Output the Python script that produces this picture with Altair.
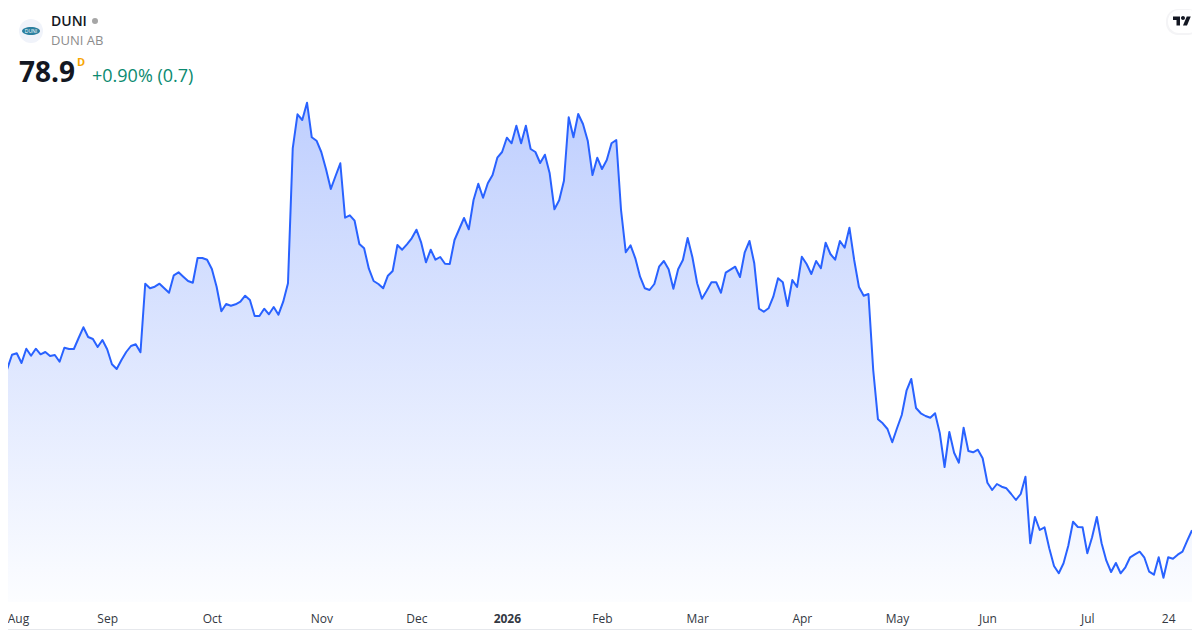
import altair as alt
import pandas as pd

close = [
91.47,90.19,91.19,91.29,90.61,91.61,91.12,91.61,91.22,91.38,
91.10,91.17,90.70,91.68,91.59,91.59,92.36,93.11,92.43,92.29,
91.73,92.22,91.57,90.52,90.19,90.82,91.38,91.80,91.92,91.36,
96.16,95.84,95.95,96.16,95.84,95.53,96.75,96.96,96.65,96.35,
96.23,97.96,97.96,97.84,97.19,95.95,94.23,94.74,94.62,94.72,
94.90,95.32,95.02,93.90,93.90,94.41,94.02,94.53,93.99,94.90,
96.19,105.64,108.02,107.62,108.83,106.41,106.17,105.38,104.17,102.79,
103.70,104.59,100.78,100.95,100.57,98.94,98.64,97.21,96.35,96.14,
95.84,96.72,97.05,98.87,98.54,98.92,99.34,99.94,99.03,97.66,
98.54,97.84,98.03,97.56,97.54,99.22,99.99,100.76,99.97,102.02,
103.16,102.18,103.19,103.77,104.98,105.38,106.38,105.99,107.22,105.99,
107.22,105.59,105.38,104.61,105.19,103.89,101.37,102.00,103.37,107.81,
106.41,108.04,107.34,106.17,103.77,104.98,104.19,104.82,105.99,106.22,
101.32,98.36,98.85,97.94,96.65,95.84,95.72,96.14,97.35,97.75,
97.17,95.81,97.17,97.82,99.36,98.01,96.19,95.11,95.67,96.26,
96.26,95.53,96.93,97.14,97.35,96.63,98.36,99.15,97.59,94.41,
94.20,94.44,95.25,96.54,96.26,94.60,96.42,95.93,98.05,97.54,
96.84,97.75,97.24,99.03,98.24,97.84,99.15,98.68,100.08,97.82,
95.93,95.32,95.44,90.12,86.67,86.39,85.99,85.06,86.04,86.97,
88.67,89.49,87.46,87.09,86.90,86.78,87.09,85.69,83.33,85.78,
84.33,83.63,86.08,84.45,84.36,84.54,83.94,82.23,81.72,82.14,
81.95,81.84,81.44,81.02,81.44,82.65,77.99,79.83,78.92,79.11,
77.64,76.40,75.89,76.59,77.82,79.50,79.13,79.11,77.29,78.41,
79.83,77.99,76.77,75.98,76.61,75.89,76.31,77.01,77.22,77.40,
76.98,76.00,75.79,77.01,75.58,77.01,76.91,77.19,77.40,78.17,
78.90,
]
tick_sessions = [2, 22, 44, 67, 87, 106, 126, 146, 168, 188, 207, 228, 245]
tick_labels = ["Aug", "Sep", "Oct", "Nov", "Dec", "2026", "Feb", "Mar", "Apr", "May", "Jun", "Jul", "24"]
bold_session = 106
first_session = 2
ticker = ["DUNI"]
company = ["DUNI AB"]
last_price = ["78.9"]
interval = ["D"]
change = ["+0.90% (0.7)"]

WIDTH, HEIGHT, FOOT = 1184, 594, 28
FONT = "Open Sans"
LINE = "#2962FF"
Y_MIN, Y_MAX = 73.88, 115.46
df = pd.DataFrame({"session": list(range(len(close))), "close": close})
x_scale = alt.Scale(domain=[1.156, 250.0], nice=False, zero=False)
y_scale = alt.Scale(domain=[Y_MIN, Y_MAX], nice=False, zero=False)
label_expr = "{" + ",".join(f"'{s}':'{t}'" for s, t in zip(tick_sessions, tick_labels)) + "}[datum.value]"

x_axis = alt.Axis(
    values=tick_sessions, labelExpr=label_expr, title=None, domain=False, ticks=False, grid=False,
    labelFont=FONT, labelFontSize=12, labelColor="#333842", labelPadding=11, labelOverlap=False,
    labelFlush=False, labelBound=False,
    labelFontWeight={"condition": {"test": f"datum.value == {bold_session}", "value": "bold"}, "value": "normal"},
    labelOffset={"condition": {"test": f"datum.value == {first_session}", "value": 6}, "value": 0},
)
base = alt.Chart(df).encode(
    x=alt.X("session:Q", scale=x_scale, axis=x_axis),
    y=alt.Y("close:Q", scale=y_scale, axis=None),
)
gradient = alt.Gradient(
    gradient="linear", x1=1, y1=0, x2=1, y2=1,
    stops=[alt.GradientStop(color="#bfcffe", offset=0), alt.GradientStop(color="#fcfdff", offset=1)],
)
area = base.encode(y2=alt.Y2(datum=Y_MIN)).mark_area(color=gradient, clip=True, line=False, opacity=1)
line = base.mark_line(color=LINE, strokeWidth=2, clip=True, strokeJoin="round")


def px(v):
    return alt.value(v - 8)


def text(value, x, y, size, color, weight="normal", align="left", **kw):
    return alt.Chart(pd.DataFrame({"t": value})).mark_text(
        font=FONT, fontSize=size, color=color, fontWeight=weight, align=align, baseline="alphabetic", **kw
    ).encode(x=px(x), y=px(y), text="t:N")


def glyph(shape, x, y, size, color):
    return alt.Chart(pd.DataFrame({"k": [0]})).mark_point(
        shape=shape, size=size, filled=True, color=color, opacity=1, strokeWidth=0
    ).encode(x=px(x), y=px(y))


def box(x0, x1, y0, y1, color, radius=0):
    return alt.Chart(pd.DataFrame({"k": [0]})).mark_rect(color=color, cornerRadius=radius).encode(
        x=px(x0), x2=px(x1), y=px(y0), y2=px(y1)
    )


TV = ("M-0.222,0.5H-0.611V-0.111H-1V-0.5H-0.222Z"
      "M0.556,0.5H0.111L0.528,-0.5H0.972Z"
      "M-0.111,-0.333A0.222,0.222 0 1 0 0.333,-0.333A0.222,0.222 0 1 0 -0.111,-0.333Z")
ELLIPSE = "M-1,0A1,0.44 0 1 0 1,0A1,0.44 0 1 0 -1,0Z"

chart = alt.layer(
    area,
    line,
    box(8, 1192, 629, 630, "#e6e8ec"),
    box(1166, 1200, 9, 35, "#f4f4f6", 12),
    box(1168, 1200, 10, 33, "#ffffff", 11),
    glyph(TV, 1182, 21, 324, "#131722"),
    glyph("circle", 31, 31, 576, "#f0f3fa"),
    glyph(ELLIPSE, 31, 31, 324, "#2b7f9f"),
    text(ticker, 31, 33, 5, "#ffffff", align="center"),
    text(ticker, 51, 26, 14, "#131722", weight=600),
    glyph("circle", 95, 21, 36, "#a6a6a6"),
    text(company, 51, 45, 13, "#8c8c8c"),
    text(last_price, 19, 81.5, 28, "#131722", weight="bold"),
    text(interval, 77, 65.5, 11, "#f7a600", weight="bold"),
    text(change, 92, 82, 18, "#0b8a70"),
).properties(
    width=WIDTH, height=HEIGHT,
    autosize=alt.AutoSizeParams(type="none"),
    padding={"left": 0, "top": 0, "right": 0, "bottom": FOOT},
    background="#ffffff",
).configure_view(stroke=None)

chart.save("out.html", embed_options={"renderer": "svg", "actions": False})
